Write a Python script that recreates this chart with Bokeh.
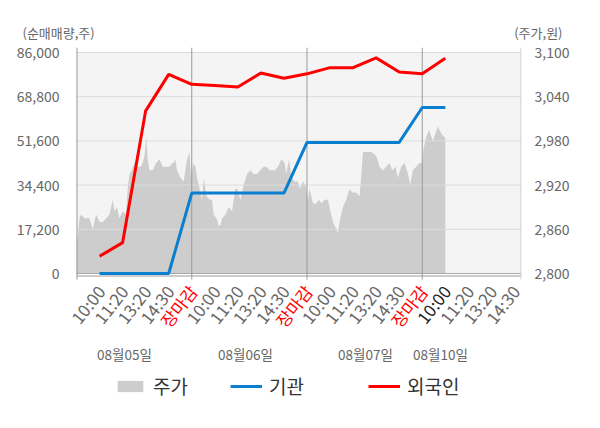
import numpy as np
from bokeh.plotting import figure
from bokeh.layouts import column
from bokeh.models import (Range1d, LinearAxis, FixedTicker, NumeralTickFormatter,
                          ColumnDataSource, Legend, LegendItem, BoxAnnotation)
from bokeh.core.properties import value
from bokeh.embed import file_html
from bokeh.resources import INLINE

FONT = "Noto Sans CJK KR"

# ---------------- data ----------------
time_labels = ["10:00", "11:20", "13:20", "14:30", "장마감",
               "10:00", "11:20", "13:20", "14:30", "장마감",
               "10:00", "11:20", "13:20", "14:30", "장마감",
               "10:00", "11:20", "13:20", "14:30"]
date_labels = ["08월05일", "08월06일", "08월07일", "08월10일"]

# net buying (shares) at each time slot 1..16
foreign = [6700, 12000, 63300, 77500, 73600, 73200, 72600, 78000,
           76000, 77700, 80100, 80100, 83900, 78400, 77700, 83800]
institution = [0, 0, 0, 0, 31300, 31300, 31300, 31300,
               31300, 51000, 51000, 51000, 51000, 51000, 64600, 64600]

# stock price (won) by time position (slot units)
price_t = [0.00, 0.06, 0.13, 0.20, 0.35, 0.56, 0.71, 0.85, 1.00, 1.14, 1.29, 1.43, 1.57, 1.65,
           1.76, 1.86, 2.01, 2.15, 2.22, 2.30, 2.40, 2.51, 2.66, 2.80, 2.87, 2.95, 3.03, 3.09,
           3.16, 3.31, 3.45, 3.60, 3.74, 3.89, 4.03, 4.17, 4.22, 4.29, 4.36, 4.51, 4.65, 4.72,
           4.80, 4.90, 4.97,
           5.06, 5.16, 5.23, 5.34, 5.45, 5.52, 5.64, 5.78, 5.88, 5.95, 6.07, 6.17, 6.24, 6.32,
           6.46, 6.60, 6.75, 6.89, 6.97, 7.11, 7.25, 7.40, 7.54, 7.69, 7.83, 7.98, 8.12, 8.24,
           8.38, 8.60, 8.74, 8.89, 9.03, 9.10, 9.22, 9.32, 9.46, 9.61, 9.68, 9.83, 9.94, 10.04,
           10.11, 10.26, 10.40, 10.52, 10.62, 10.76, 10.91, 11.01, 11.13, 11.27, 11.34, 11.44,
           11.56, 11.70, 11.85, 11.96, 12.14, 12.28, 12.35, 12.43, 12.57, 12.79, 13.00, 13.15,
           13.29, 13.44, 13.58, 13.70, 13.84, 13.94, 14.09, 14.23, 14.38, 14.48, 14.59, 14.74,
           14.88, 15.00,
           15.06, 15.17, 15.29, 15.46, 15.57, 15.68, 15.82, 15.96, 16.00]
price = [2845, 2850, 2875, 2880, 2875, 2875, 2860, 2880, 2870, 2870, 2875, 2880, 2900, 2885,
         2890, 2875, 2885, 2880, 2915, 2935, 2940, 2950, 2945, 2945, 2950, 2960, 2985, 2955,
         2940, 2940, 2950, 2955, 2945, 2945, 2945, 2950, 2950, 2955, 2940, 2930, 2925, 2940,
         2955, 2965, 2930,
         2950, 2945, 2930, 2915, 2900, 2930, 2905, 2900, 2900, 2880, 2875, 2865, 2865, 2875,
         2880, 2890, 2885, 2915, 2915, 2900, 2920, 2935, 2940, 2935, 2935, 2940, 2945, 2945,
         2940, 2940, 2945, 2955, 2950, 2935, 2955, 2930, 2925, 2925, 2915, 2925, 2920, 2900,
         2915, 2895, 2895, 2900, 2895, 2900, 2900, 2885, 2870, 2860, 2855, 2875,
         2890, 2900, 2915, 2910, 2910, 2905, 2930, 2965, 2965, 2965, 2960, 2945,
         2940, 2945, 2950, 2940, 2945, 2930, 2945, 2950, 2935, 2920, 2940, 2945,
         2950, 2950,
         2970, 2985, 2995, 2980, 2990, 3000, 2990, 2985, 2985]

left_ticks = [0, 17200, 34400, 51600, 68800, 86000]
right_ticks = [2800, 2860, 2920, 2980, 3040, 3100]
day_bounds = [5, 10, 15]

# ---------------- geometry (page pixels) ----------------
W, H = 584, 428
TOP_H = 42                      # title strip
AXL, AXR = 76, 521              # left / right value-axis lines
FL, FR, FT, FB = 66, 521, 47, H  # main frame edges (frame also holds the label area)
Y0, YTOP = 273, 52              # pixel rows of 0 / 86000
AXIS_Y = 275.5                  # pixel row of the bottom axis line
TICK_END = 279                  # lower end of axis lines / day separators
SLOT = 23.05                    # pixels per time slot

def px_x(px):
    return (px - AXL) / SLOT

def px_y(py):
    return (Y0 - py) * 86000 / (Y0 - YTOP)

x_start, x_end = px_x(FL), px_x(FR)
y_start, y_end = px_y(FB), px_y(FT)
pscale = 300 / (Y0 - YTOP)
p_start, p_end = 2800 - (FB - Y0) * pscale, 3100 + (YTOP - FT) * pscale

def bare(fig):
    fig.outline_line_color = None
    fig.grid.visible = False
    fig.background_fill_color = "white"
    fig.border_fill_color = "white"

# ---------------- top strip: unit titles ----------------
top = figure(width=W, height=TOP_H, output_backend="svg", toolbar_location=None,
             x_range=Range1d(0, W), y_range=Range1d(TOP_H, 0),
             x_axis_location=None, y_axis_location=None,
             min_border=0, min_border_left=0, min_border_right=0,
             min_border_top=0, min_border_bottom=0)
top.frame_align = False
bare(top)
top.text(x=[22], y=[32], text=["(순매매량,주)"], text_font=value(FONT), text_font_size="13px",
         text_color="#666666", text_baseline="middle", text_align="left")
top.text(x=[562], y=[32], text=["(주가,원)"], text_font=value(FONT), text_font_size="13px",
         text_color="#666666", text_baseline="middle", text_align="right")

# ---------------- main chart ----------------
p = figure(width=W, height=H - TOP_H, output_backend="svg", toolbar_location=None,
           x_range=Range1d(x_start, x_end), y_range=Range1d(y_start, y_end),
           x_axis_location=None,
           min_border_left=FL, min_border_right=W - FR,
           min_border_top=FT - TOP_H, min_border_bottom=0)
bare(p)
p.extra_y_ranges = {"price": Range1d(p_start, p_end)}

p.add_layout(BoxAnnotation(left=0, bottom=0, top=86000, fill_color="#f4f4f4", fill_alpha=1,
                           line_color=None, level="underlay"))

area = p.varea(x=price_t, y1=[2800] * len(price), y2=price, y_range_name="price",
               fill_color="#cdcdcd")

# grid lines, axis lines, day separators
x0 = px_x(AXL)
p.segment(x0=[x0] * len(left_ticks), x1=[x_end] * len(left_ticks),
          y0=left_ticks, y1=left_ticks,
          line_color=["#a8a8a8"] + ["#dcdcdc"] * (len(left_ticks) - 1), line_width=1)
p.segment(x0=[x0], x1=[x_end], y0=[px_y(AXIS_Y)], y1=[px_y(AXIS_Y)],
          line_color="#999999", line_width=1)
p.segment(x0=day_bounds, x1=day_bounds, y0=[px_y(TICK_END)] * 3, y1=[y_end] * 3,
          line_color="#9a9a9a", line_width=1)
p.segment(x0=[px_x(AXL + 0.5), px_x(AXR - 0.5)], x1=[px_x(AXL + 0.5), px_x(AXR - 0.5)],
          y0=[px_y(TICK_END)] * 2, y1=[y_end] * 2,
          line_color=["#999999", "#c8c8c8"], line_width=1)

xs = list(range(1, len(foreign) + 1))
inst = p.line(xs, institution, line_color="#0a7fcf", line_width=3)
forg = p.line(xs, foreign, line_color="#ff0000", line_width=3)

ly = p.yaxis[0]
ly.ticker = FixedTicker(ticks=left_ticks)
ly.formatter = NumeralTickFormatter(format="0,0")
ly.axis_line_color = None
ly.major_tick_line_color = None
ly.minor_tick_line_color = None
ly.major_label_standoff = 1
ly.major_label_text_font = FONT
ly.major_label_text_font_size = "14px"
ly.major_label_text_color = "#666666"

ry = LinearAxis(y_range_name="price", ticker=FixedTicker(ticks=right_ticks),
                formatter=NumeralTickFormatter(format="0,0"))
ry.axis_line_color = None
ry.major_tick_line_color = None
ry.minor_tick_line_color = None
ry.major_label_standoff = 7
ry.major_label_text_font = FONT
ry.major_label_text_font_size = "14px"
ry.major_label_text_color = "#666666"
p.add_layout(ry, "right")

# rotated time labels
tcol = []
for i, t in enumerate(time_labels):
    if t == "장마감":
        tcol.append("#ff0000")
    elif i == 15:
        tcol.append("#222222")
    else:
        tcol.append("#666666")
tsrc = ColumnDataSource(dict(x=[i + 1 + 1 / SLOT for i in range(len(time_labels))],
                             y=[px_y(287)] * len(time_labels), text=time_labels, color=tcol))
p.text(x="x", y="y", text="text", source=tsrc, angle=52, angle_units="deg",
       text_align="right", text_baseline="middle", text_font=value(FONT),
       text_font_size="17px", text_color="color")

# date labels
date_px = [124, 245, 365, 440]
p.text(x=[px_x(v) for v in date_px], y=[px_y(353)] * 4, text=date_labels, text_align="center",
       text_baseline="middle", text_font=value(FONT), text_font_size="13.5px",
       text_color="#666666")

# legend
def add_leg(label, rend, gx):
    lg = Legend(items=[LegendItem(label=label, renderers=[rend])],
                location=(gx - FL, H - 399), orientation="horizontal",
                glyph_width=32, glyph_height=14, label_height=14, label_standoff=7,
                padding=0, margin=0, border_line_alpha=0, background_fill_alpha=0,
                label_text_font=FONT, label_text_font_size="19px", label_text_color="#333333")
    p.add_layout(lg)

add_leg("주가", area, 114)
add_leg("기관", inst, 230)
add_leg("외국인", forg, 368)

layout = column(top, p, spacing=0)
open("out.html", "w").write(file_html(layout, INLINE))
